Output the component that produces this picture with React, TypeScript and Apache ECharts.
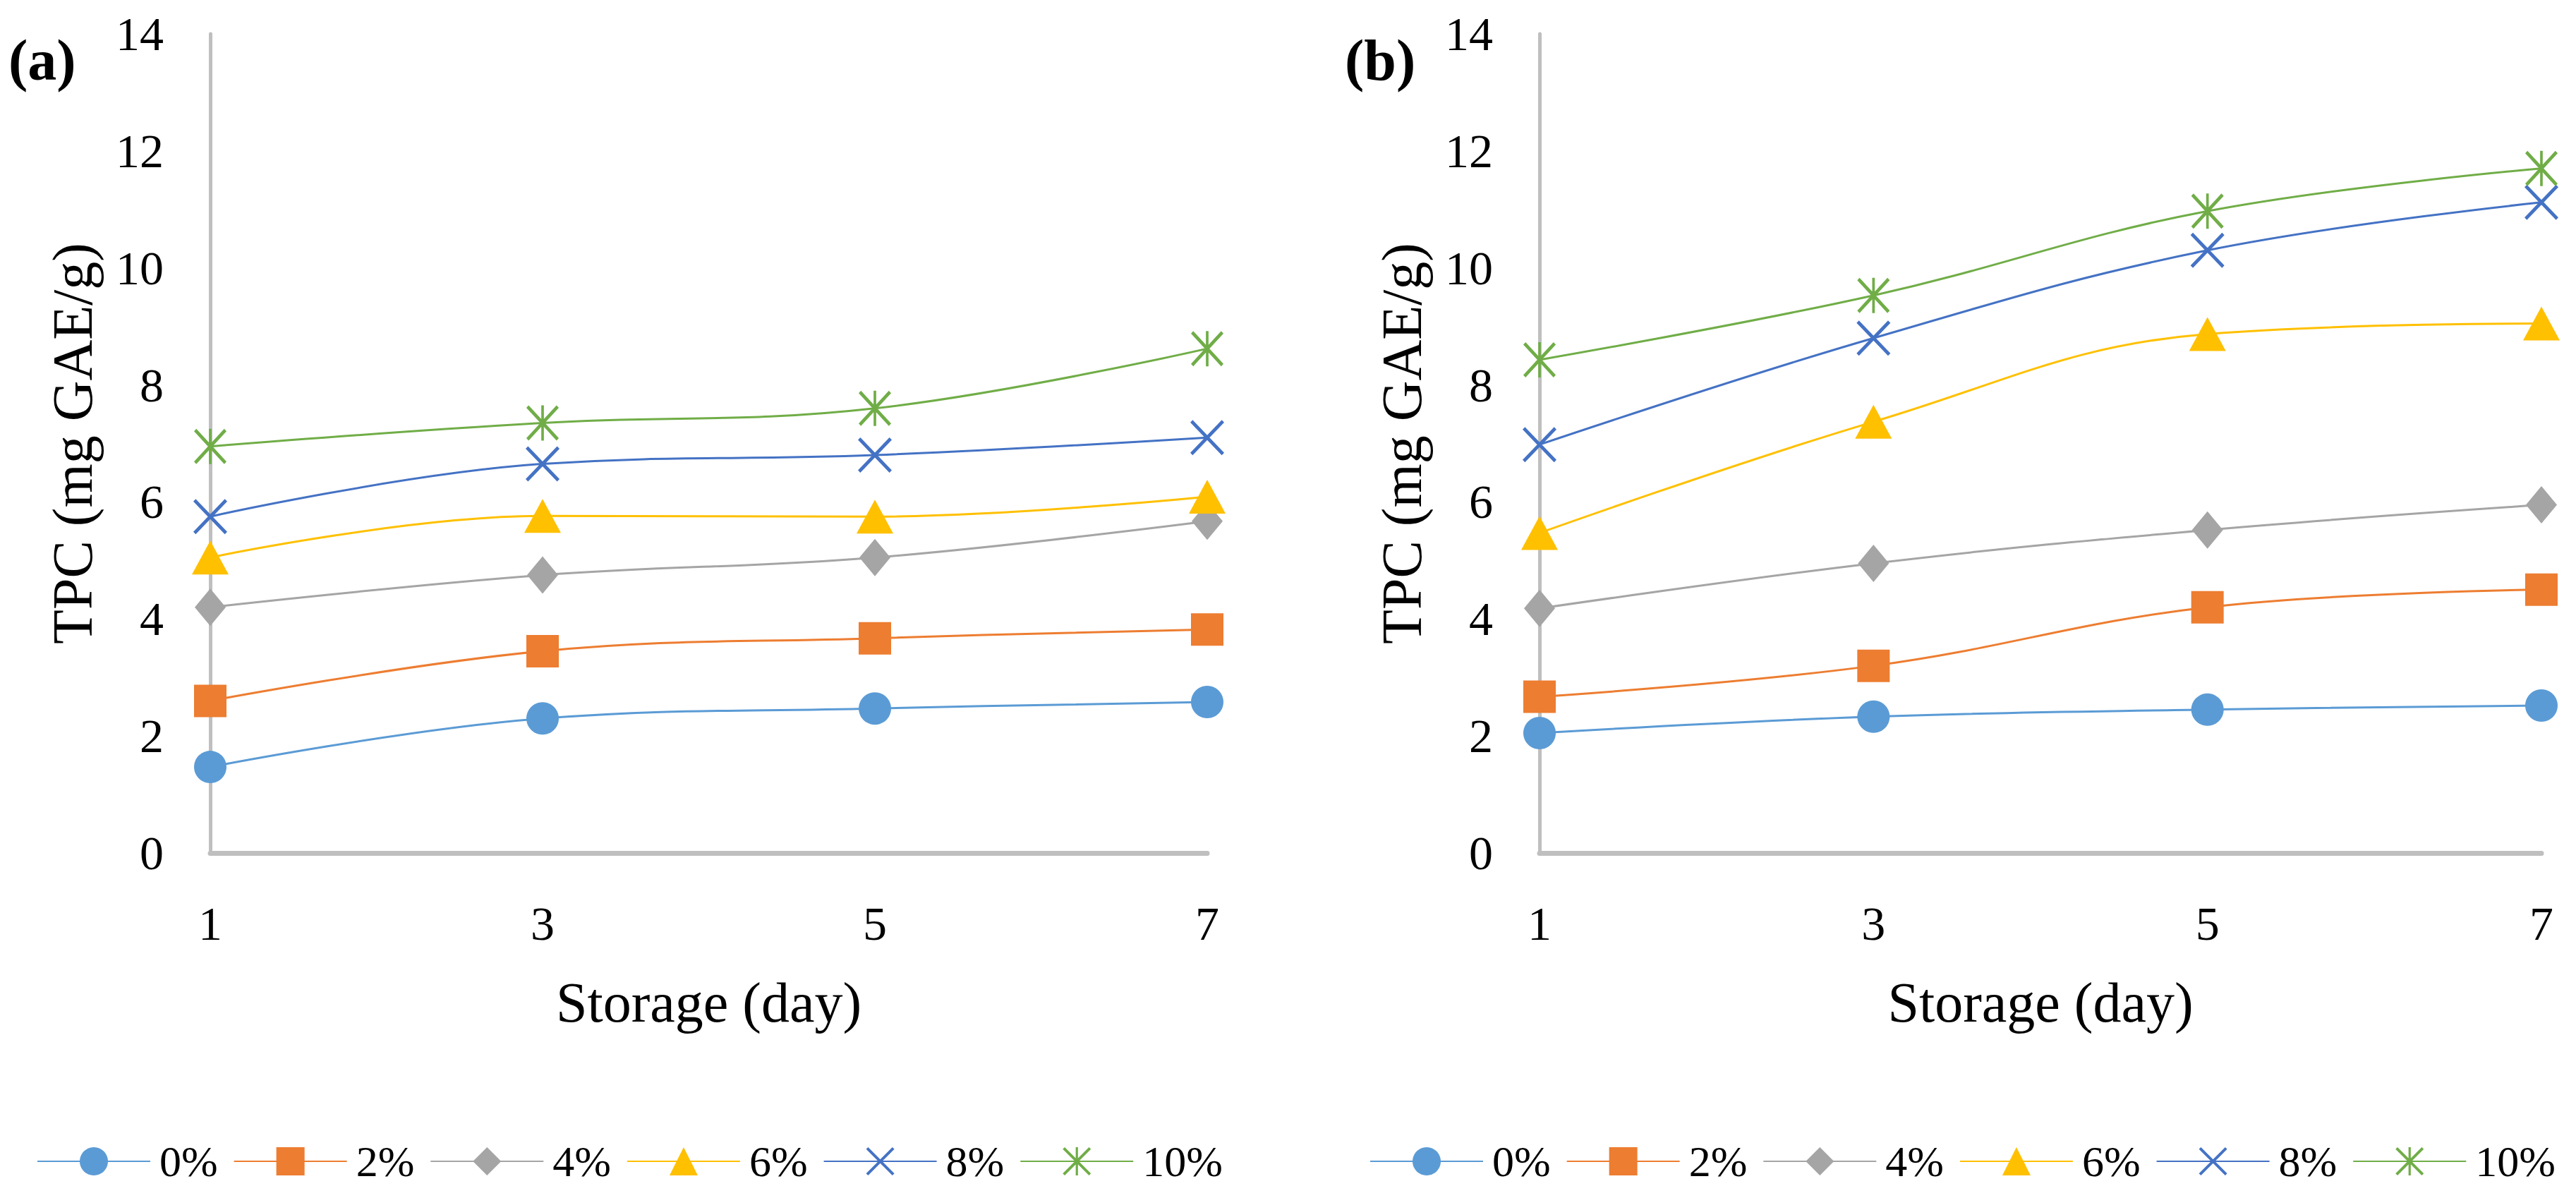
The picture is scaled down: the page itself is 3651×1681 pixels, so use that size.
import React, { useEffect, useRef } from "react";
import * as echarts from "echarts";

const days = ["1", "3", "5", "7"];
const seriesNames = ["0%", "2%", "4%", "6%", "8%", "10%"];
const colors = ["#5B9BD5", "#ED7D31", "#A5A5A5", "#FFC000", "#4472C4", "#70AD47"];

const panelA0 = [1.47, 2.3, 2.47, 2.58];
const panelA2 = [2.6, 3.45, 3.67, 3.82];
const panelA4 = [4.2, 4.75, 5.05, 5.67];
const panelA6 = [5.05, 5.76, 5.75, 6.09];
const panelA8 = [5.75, 6.65, 6.8, 7.1];
const panelA10 = [6.95, 7.35, 7.6, 8.62];

const panelB0 = [2.05, 2.33, 2.45, 2.52];
const panelB2 = [2.67, 3.2, 4.2, 4.5];
const panelB4 = [4.18, 4.95, 5.52, 5.95];
const panelB6 = [5.47, 7.37, 8.87, 9.05];
const panelB8 = [6.98, 8.8, 10.3, 11.12];
const panelB10 = [8.43, 9.53, 10.97, 11.7];

const yTicksMin = 0;
const yTicksMax = 14;
const yTicksStep = 2;

const xPath =
  "path://M0,7 L7,0 L100,93 L93,100 Z M93,0 L100,7 L7,100 L0,93 Z";
const starPath =
  "path://M0,7 L7,0 L100,93 L93,100 Z M93,0 L100,7 L7,100 L0,93 Z M46,0 L54,0 L54,100 L46,100 Z";

const symbols: any[] = ["circle", "rect", "diamond", "triangle", xPath, starPath];
const symbolSizes: any[] = [46, 46, [44, 53], [52, 48], [48, 50], [46, 50]];

const FONT = "Liberation Serif";

export default function App() {
  const ref = useRef<HTMLDivElement>(null);
  useEffect(() => {
    if (!ref.current) return;
    const chart = echarts.init(ref.current, undefined, { renderer: "svg" });
    const dataA = [panelA0, panelA2, panelA4, panelA6, panelA8, panelA10];
    const dataB = [panelB0, panelB2, panelB4, panelB6, panelB8, panelB10];

    const grids = [
      { left: 298, top: 48, width: 1413, height: 1161 },
      { left: 2182, top: 48, width: 1420, height: 1161 },
    ];

    const xAxes = grids.map((_, i) => ({
      type: "category",
      gridIndex: i,
      data: days,
      boundaryGap: false,
      axisLine: { show: true, lineStyle: { color: "#BFBFBF", width: 7 } },
      axisTick: { show: false },
      axisLabel: { margin: 66, fontSize: 68, fontFamily: FONT, color: "#000" },
      name: "Storage (day)",
      nameLocation: "middle",
      nameGap: 172,
      nameTextStyle: { fontSize: 80, fontFamily: FONT, color: "#000" },
      splitLine: { show: false },
    }));

    const yAxes = grids.map((_, i) => ({
      type: "value",
      gridIndex: i,
      min: yTicksMin,
      max: yTicksMax,
      interval: yTicksStep,
      axisLine: { show: true, lineStyle: { color: "#BFBFBF", width: 5 } },
      axisTick: { show: false },
      splitLine: { show: false },
      axisLabel: { margin: 66, fontSize: 68, fontFamily: FONT, color: "#000" },
      name: "TPC (mg GAE/g)",
      nameLocation: "middle",
      nameRotate: 90,
      nameGap: 155,
      nameTextStyle: { fontSize: 80, fontFamily: FONT, color: "#000" },
    }));

    const series: any[] = [];
    [dataA, dataB].forEach((panel, p) => {
      panel.forEach((vals, k) => {
        series.push({
          type: "line",
          name: seriesNames[k],
          xAxisIndex: p,
          yAxisIndex: p,
          data: vals,
          smooth: 0.4,
          symbol: symbols[k],
          symbolSize: symbolSizes[k],
          showAllSymbol: true,
          lineStyle: { color: colors[k], width: 3 },
          itemStyle: { color: colors[k] },
          emphasis: { disabled: true },
        });
      });
    });

    const legendBase = {
      data: seriesNames,
      orient: "horizontal",
      top: 1615,
      itemWidth: 160,
      itemHeight: 50,
      itemGap: 22,
      padding: 0,
      selectedMode: false,
      textStyle: { fontSize: 62, fontFamily: FONT, color: "#000", padding: [0, 0, 0, 8] },
    };

    chart.setOption({
      animation: false,
      backgroundColor: "#fff",
      grid: grids,
      xAxis: xAxes,
      yAxis: yAxes,
      series,
      legend: [
        { ...legendBase, left: 52 },
        { ...legendBase, left: 1941 },
      ],
      graphic: [
        {
          type: "text",
          left: 12,
          top: 44,
          style: { text: "(a)", font: `bold 82px ${FONT}`, fill: "#000" },
        },
        {
          type: "text",
          left: 1906,
          top: 44,
          style: { text: "(b)", font: `bold 82px ${FONT}`, fill: "#000" },
        },
      ],
    });
    return () => chart.dispose();
  }, []);
  return (
    <div
      ref={ref}
      style={{ position: "fixed", left: 0, top: 0, width: "3651px", height: "1681px" }}
    />
  );
}
